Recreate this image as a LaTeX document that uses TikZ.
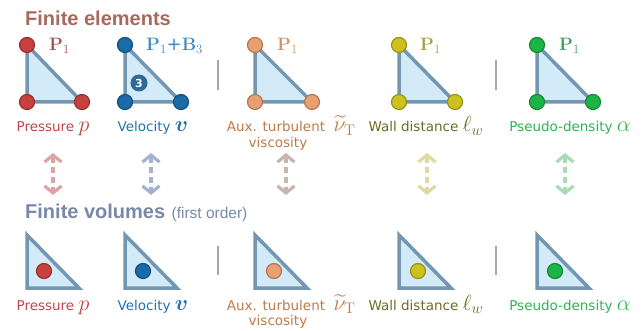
\RequirePackage{fix-cm}
\documentclass[tikz,border=0pt]{standalone}
\usepackage[no-math]{fontspec}
\usepackage{amsmath}
\usepackage{amssymb}
\setmainfont{DejaVu Sans}
\newfontfamily\titlefont{Liberation Sans}
\usetikzlibrary{arrows.meta, positioning, backgrounds}

\definecolor{edge}{HTML}{7397B2}
\definecolor{cellfill}{HTML}{D3EAF8}
\definecolor{sepgray}{HTML}{A8A8A8}
\definecolor{feTitle}{HTML}{A8685A}
\definecolor{fvTitle}{HTML}{7889A8}
\definecolor{pres}{HTML}{C8403F}
\definecolor{presTxt}{HTML}{C0454A}
\definecolor{presP}{HTML}{A5504A}
\definecolor{presA}{HTML}{DDA3A3}
\definecolor{vel}{HTML}{1A6BA8}
\definecolor{velTxt}{HTML}{2272AD}
\definecolor{velP}{HTML}{3D8CC4}
\definecolor{velA}{HTML}{A3B3CD}
\definecolor{badge}{HTML}{2D6A99}
\definecolor{aux}{HTML}{E8A070}
\definecolor{auxTxt}{HTML}{C07A45}
\definecolor{auxP}{HTML}{D49262}
\definecolor{auxA}{HTML}{C6B6AE}
\definecolor{wall}{HTML}{CCC21E}
\definecolor{wallTxt}{HTML}{6E6A22}
\definecolor{wallP}{HTML}{A8A040}
\definecolor{wallA}{HTML}{DEDAA2}
\definecolor{dens}{HTML}{1DB446}
\definecolor{densTxt}{HTML}{2DB455}
\definecolor{densP}{HTML}{3CA060}
\definecolor{densA}{HTML}{A8DCB2}

\newcommand{\varlab}[1]{{\fontsize{22}{22}\selectfont$#1$}}

\tikzstyle{tri} = [draw=edge, fill=cellfill, line width=3.5pt, line join=round]
\tikzstyle{sep} = [draw=sepgray, line width=2.5pt]

\begin{document}
\begin{tikzpicture}[
        x=1pt, y=-1pt,
        vtx/.style={circle, draw=#1!75!black, fill=#1, line width=1.2pt, minimum size=15pt, inner sep=0pt},
        lab/.style={anchor=base, inner sep=0pt, font=\fontsize{13.5}{16}\selectfont},
        pone/.style={anchor=base west, inner sep=0pt, font=\fontsize{18}{20}\selectfont},
        head/.style={anchor=base west, inner sep=0pt, font=\titlefont\bfseries\fontsize{20}{24}\selectfont},
        dbl/.style={{Straight Barb[length=7pt,width=17pt]}-{Straight Barb[length=7pt,width=17pt]}, line width=3.2pt, dash pattern=on 6pt off 4pt, draw=#1}
        ]

        \useasboundingbox (0,0) rectangle (644,331);

        % finite elements
        \node[head, text=feTitle] (fe) at (25,26) {Finite elements};

        \node[vtx=pres] (pt) at (27,45) {};
        \node[vtx=pres] (pl) at (27,102) {};
        \node[vtx=pres] (pr) at (82,102) {};
        \node[pone, text=presP] (pP) at (49,51) {$\mathbf{P}_1$};

        \node[vtx=vel] (vt) at (125,45) {};
        \node[vtx=vel] (vl) at (125,102) {};
        \node[vtx=vel] (vr) at (181,102) {};
        \node[circle, fill=badge, text=white, minimum size=17pt, inner sep=0pt, font=\bfseries\fontsize{11}{11}\selectfont] (vb) at (139,83) {3};
        \node[pone, text=velP] (vP) at (146,51) {$\mathbf{P}_1$+$\mathbf{B}_3$};

        \node[vtx=aux] (at) at (255,45) {};
        \node[vtx=aux] (al) at (255,102) {};
        \node[vtx=aux] (ar) at (312,102) {};
        \node[pone, text=auxP] (aP) at (277,51) {$\mathbf{P}_1$};

        \node[vtx=wall] (wt) at (399,45) {};
        \node[vtx=wall] (wl) at (399,102) {};
        \node[vtx=wall] (wr) at (455,102) {};
        \node[pone, text=wallP] (wP) at (420,51) {$\mathbf{P}_1$};

        \node[vtx=dens] (dt) at (537,45) {};
        \node[vtx=dens] (dl) at (537,102) {};
        \node[vtx=dens] (dr) at (593,102) {};
        \node[pone, text=densP] (dP) at (559,51) {$\mathbf{P}_1$};

        \begin{scope}[on background layer]
            \draw[tri] (pt.center) -- (pl.center) -- (pr.center) -- cycle;
            \draw[tri] (vt.center) -- (vl.center) -- (vr.center) -- cycle;
            \draw[tri] (at.center) -- (al.center) -- (ar.center) -- cycle;
            \draw[tri] (wt.center) -- (wl.center) -- (wr.center) -- cycle;
            \draw[tri] (dt.center) -- (dl.center) -- (dr.center) -- cycle;
        \end{scope}

        \draw[sep] (218,60) -- (218,90);
        \draw[sep] (496,60) -- (496,90);

        \node[lab, text=presTxt] (pfe) at (53,132) {Pressure \varlab{p}};
        \node[lab, text=velTxt] (vfe) at (153,132) {Velocity \varlab{\boldsymbol{v}}};
        \node[lab, text=auxTxt] (afe) at (276,132) {Aux. turbulent};
        \node[lab, text=auxTxt] (afe2) at (278,147) {viscosity};
        \node[anchor=base west, inner sep=0pt, text=auxTxt] (afeS) at ([xshift=8pt]afe.base east) {\varlab{\widetilde{\nu}_{\mathrm{T}}}};
        \node[lab, text=wallTxt] (wfe) at (426,132) {Wall distance \varlab{\ell_w}};
        \node[lab, text=densTxt] (dfe) at (570,132) {Pseudo-density \varlab{\alpha}};

        % links
        \coordinate (pa) at (53,153);  \coordinate (pb) at (53,195);
        \coordinate (va) at (151,153); \coordinate (vb2) at (151,195);
        \coordinate (aa) at (286,153); \coordinate (ab) at (286,195);
        \coordinate (wa) at (427,153); \coordinate (wb) at (427,195);
        \coordinate (da) at (565,153); \coordinate (db) at (565,195);
        \draw[dbl=presA] (pa) -- (pb);
        \draw[dbl=velA] (va) -- (vb2);
        \draw[dbl=auxA] (aa) -- (ab);
        \draw[dbl=wallA] (wa) -- (wb);
        \draw[dbl=densA] (da) -- (db);

        % finite volumes
        \node[head, text=fvTitle] (fv) at (25,218) {Finite volumes};
        \node[anchor=base west, inner sep=0pt, text=fvTitle, font=\titlefont\fontsize{15.5}{18}\selectfont] (fo) at ([xshift=6pt]fv.base east) {(first order)};

        \draw[tri, line join=miter] (27,235) -- (27,288) -- (79,288) -- cycle;
        \draw[tri, line join=miter] (125,235) -- (125,288) -- (177,288) -- cycle;
        \draw[tri, line join=miter] (255,235) -- (255,288) -- (307,288) -- cycle;
        \draw[tri, line join=miter] (399,235) -- (399,288) -- (451,288) -- cycle;
        \draw[tri, line join=miter] (537,235) -- (537,288) -- (589,288) -- cycle;

        \node[vtx=pres] (pc) at (44,271) {};
        \node[vtx=vel] (vc) at (143,271) {};
        \node[vtx=aux] (ac) at (274,271) {};
        \node[vtx=wall] (wc) at (418,271) {};
        \node[vtx=dens] (dc) at (555,271) {};

        \draw[sep] (218,246) -- (218,275);
        \draw[sep] (496,246) -- (496,275);

        \node[lab, text=presTxt] (pfv) at (53,310) {Pressure \varlab{p}};
        \node[lab, text=velTxt] (vfv) at (153,310) {Velocity \varlab{\boldsymbol{v}}};
        \node[lab, text=auxTxt] (afv) at (276,310) {Aux. turbulent};
        \node[lab, text=auxTxt] (afv2) at (278,325) {viscosity};
        \node[anchor=base west, inner sep=0pt, text=auxTxt] (afvS) at ([xshift=8pt]afv.base east) {\varlab{\widetilde{\nu}_{\mathrm{T}}}};
        \node[lab, text=wallTxt] (wfv) at (426,310) {Wall distance \varlab{\ell_w}};
        \node[lab, text=densTxt] (dfv) at (570,310) {Pseudo-density \varlab{\alpha}};

    \end{tikzpicture}
\end{document}
